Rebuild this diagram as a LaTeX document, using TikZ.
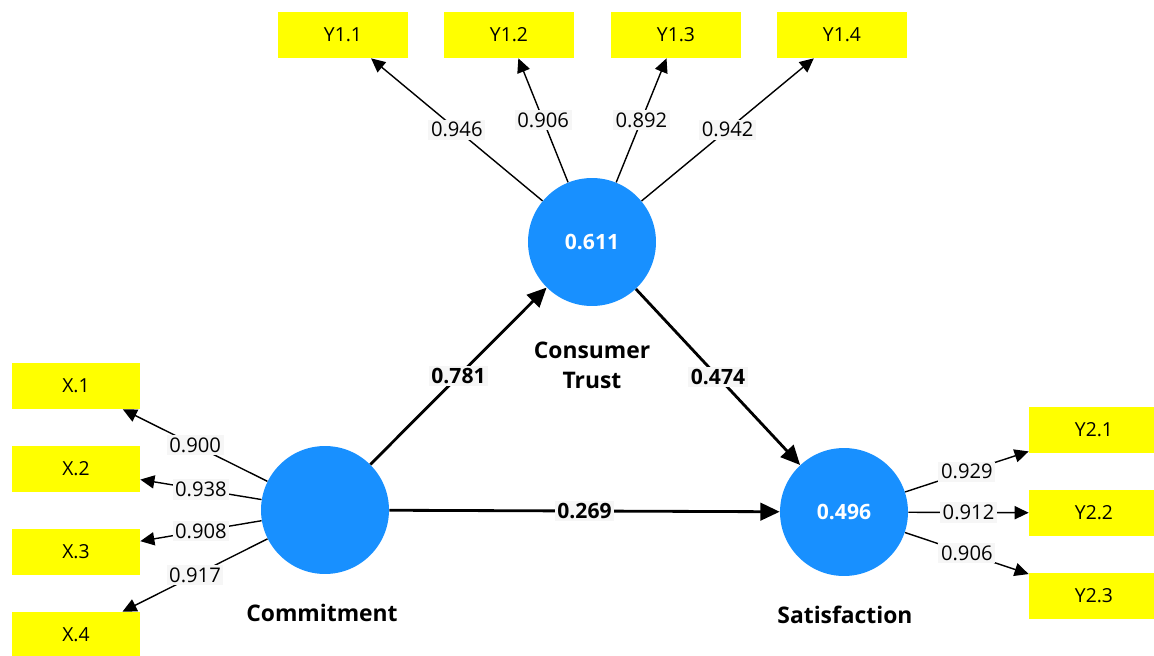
\documentclass[tikz,border=0pt]{standalone}
\usepackage{fontspec}
\setmainfont{Open Sans}
\usetikzlibrary{arrows.meta,positioning}
\definecolor{cLV}{HTML}{1890FF}
\definecolor{cMV}{HTML}{FFFF00}
\definecolor{cLBL}{HTML}{F6F6F6}

\begin{document}
\begin{tikzpicture}[x=0.02cm, y=-0.02cm, font=\fontsize{11}{13}\selectfont,
  lv/.style={circle, fill=cLV, minimum size=2.56cm, inner sep=0pt, text=white, font=\fontsize{12}{14}\selectfont\bfseries},
  mv/.style={fill=cMV, minimum width=2.6cm, minimum height=0.92cm, inner sep=0pt},
  ld/.style={-{Triangle[length=8pt,width=7.5pt]}, line width=0.8pt},
  pth/.style={-{Triangle[length=11pt,width=10pt]}, line width=1.6pt},
  lw/.style={midway, fill=cLBL, inner sep=1.5pt, font=\fontsize{11.5}{13}\selectfont},
  pw/.style={lw, font=\fontsize{12}{14}\selectfont\bfseries},
  nm/.style={font=\fontsize{13}{17}\selectfont\bfseries, align=center}]
\useasboundingbox (0,0) rectangle (1154,656);
% latent variables
\node[lv] (com) at (325,510) {};
\node[lv] (ct) at (592,242) {0.611};
\node[lv] (sat) at (844,512) {0.496};
\node[nm] (comn) at (322,613) {Commitment};
\node[nm] (ctn) at (592,365) {Consumer\\Trust};
\node[nm] (satn) at (845,615) {Satisfaction};
% indicators
\foreach \i/\x in {1/343,2/509,3/676,4/842}
  \node[mv] (y1\i) at (\x,35) {Y1.\i};
\foreach \i/\y in {1/386,2/469,3/552,4/635}
  \node[mv, minimum width=2.56cm] (x\i) at (76,\y) {X.\i};
\foreach \i/\y in {1/430,2/513,3/596}
  \node[mv] (y2\i) at (1094,\y) {Y2.\i};
% outer loadings
\foreach \i/\v in {1/0.946,2/0.906,3/0.892,4/0.942}
  \draw[ld] (ct) -- node[lw] {\v} (y1\i);
\foreach \i/\v in {1/0.900,2/0.938,3/0.908,4/0.917}
  \draw[ld] (com) -- node[lw] {\v} (x\i);
\foreach \i/\v in {1/0.929,2/0.912,3/0.906}
  \draw[ld] (sat) -- node[lw] {\v} (y2\i);
% path coefficients
\draw[pth] (com) -- node[pw] {0.781} (ct);
\draw[pth] (ct) -- node[pw] {0.474} (sat);
\draw[pth] (com) -- node[pw] {0.269} (sat);
\end{tikzpicture}
\end{document}
